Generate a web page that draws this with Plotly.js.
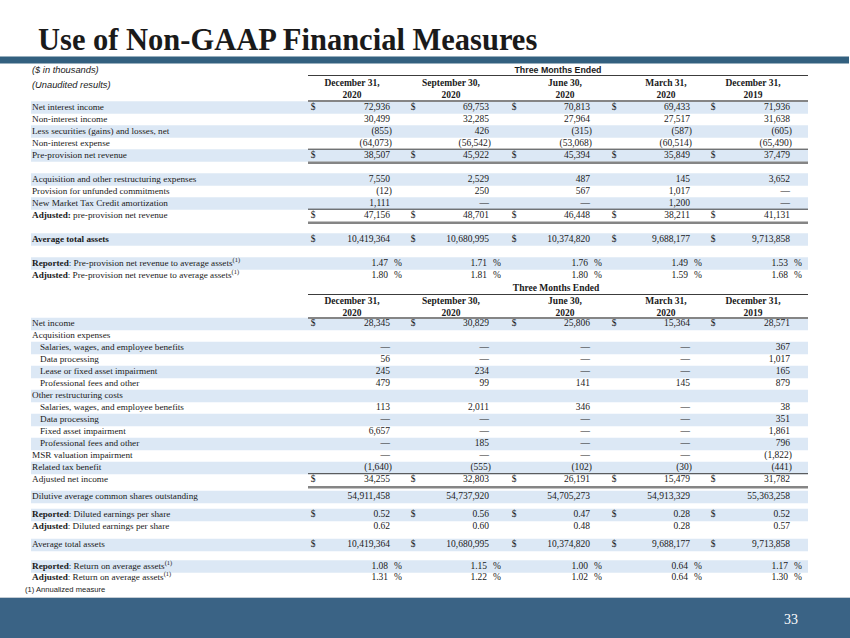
<!DOCTYPE html>
<html><head><meta charset="utf-8">
<script src="https://cdn.plot.ly/plotly-3.0.1.min.js"></script>
<style>html,body{margin:0;padding:0;background:#fff;}#chart{width:850px;height:638px;}</style>
</head><body><div id="chart"></div>
<script>
// ================= DATA =================
const periodLabels = ["December 31,", "September 30,", "June 30,", "March 31,", "December 31,"];
const periodYears = ["2020", "2020", "2020", "2020", "2019"];

const t1Labels = [
  "Net interest income",
  "Non-interest income",
  "Less securities (gains) and losses, net",
  "Non-interest expense",
  "Pre-provision net revenue",
  "Acquisition and other restructuring expenses",
  "Provision for unfunded commitments",
  "New Market Tax Credit amortization",
  "<b>Adjusted:</b> pre-provision net revenue",
  "<b>Average total assets</b>",
  "<b>Reported</b>: Pre-provision net revenue to average assets<sup>(1)</sup>",
  "<b>Adjusted</b>: Pre-provision net revenue to average assets<sup>(1)</sup>"
];
const t1Dec2020 = [72936, 30499, -855, -64073, 38507, 7550, -12, 1111, 47156, 10419364, 1.47, 1.80];
const t1Sep2020 = [69753, 32285, 426, -56542, 45922, 2529, 250, null, 48701, 10680995, 1.71, 1.81];
const t1Jun2020 = [70813, 27964, -315, -53068, 45394, 487, 567, null, 46448, 10374820, 1.76, 1.80];
const t1Mar2020 = [69433, 27517, -587, -60514, 35849, 145, 1017, 1200, 38211, 9688177, 1.49, 1.59];
const t1Dec2019 = [71936, 31638, -605, -65490, 37479, 3652, null, null, 41131, 9713858, 1.53, 1.68];
const t1Units = ["$", "", "", "", "$", "", "", "", "$", "$", "%", "%"];
const t1Decimals = [0, 0, 0, 0, 0, 0, 0, 0, 0, 0, 2, 2];

const t2Labels = [
  "Net income",
  "Acquisition expenses",
  "Salaries, wages, and employee benefits",
  "Data processing",
  "Lease or fixed asset impairment",
  "Professional fees and other",
  "Other restructuring costs",
  "Salaries, wages, and employee benefits",
  "Data processing",
  "Fixed asset impairment",
  "Professional fees and other",
  "MSR valuation impairment",
  "Related tax benefit",
  "Adjusted net income",
  "Dilutive average common shares outstanding",
  "<b>Reported</b>: Diluted earnings per share",
  "<b>Adjusted</b>: Diluted earnings per share",
  "Average total assets",
  "<b>Reported</b>: Return on average assets<sup>(1)</sup>",
  "<b>Adjusted</b>: Return on average assets<sup>(1)</sup>"
];
// "" = blank cell, null = dash
const t2Dec2020 = [28345, "", null, 56, 245, 479, "", 113, null, 6657, null, null, -1640, 34255, 54911458, 0.52, 0.62, 10419364, 1.08, 1.31];
const t2Sep2020 = [30829, "", null, null, 234, 99, "", 2011, null, null, 185, null, -555, 32803, 54737920, 0.56, 0.60, 10680995, 1.15, 1.22];
const t2Jun2020 = [25806, "", null, null, null, 141, "", 346, null, null, null, null, -102, 26191, 54705273, 0.47, 0.48, 10374820, 1.00, 1.02];
const t2Mar2020 = [15364, "", null, null, null, 145, "", null, null, null, null, null, -30, 15479, 54913329, 0.28, 0.28, 9688177, 0.64, 0.64];
const t2Dec2019 = [28571, "", 367, 1017, 165, 879, "", 38, 351, 1861, 796, -1822, -441, 31782, 55363258, 0.52, 0.57, 9713858, 1.17, 1.30];
const t2Units = ["$", "", "", "", "", "", "", "", "", "", "", "", "", "$", "", "$", "", "$", "%", "%"];
const t2Decimals = [0,0,0,0,0,0,0,0,0,0,0,0,0,0,0,2,2,0,2,2];

const titleText = "Use of Non-GAAP Financial Measures";
const headerGroupText = "Three Months Ended";
const unitNote = "($ in thousands)";
const auditNote = "(Unaudited results)";
const footNote = "(1) Annualized measure";
const pageNumber = "33";

// ================= LAYOUT / STYLE =================
const W = 850, H = 638;
const SERIF = "Liberation Serif, Times New Roman, serif";
const SANS = "Liberation Sans, Arial, sans-serif";
const TXT = "#1a1a1a";
const SHADE = "#dce8f5";
const BAND = "#3a6385";
const FS = 9.5;
const FS_LABEL = 9.2;

const xLabel = 32, xIndent = 40;
const shadeX0 = 31, shadeX1 = 808;
const ruleX0 = 308, ruleX1 = 808;
const dollarX = [313, 413, 514, 614, 713];
const valueRightX = [390, 489, 590, 690, 790];
const headerX = [352, 451, 565, 666, 753];

function rowsFrom(start, steps) {
  const out = [start];
  steps.forEach(s => out.push(out[out.length - 1] + s));
  return out;
}
const t1RowY = rowsFrom(107.5, [12, 12, 12, 12, 24, 12, 12, 12, 24, 24, 12]);
const t2RowY = rowsFrom(324, [12,12,12,12,12,12,12,12,12,12,12,12,12, 17, 18, 12, 18, 21.5, 11.5]);
const t1Shade = [1,0,1,0,1, 1,0,1,0, 1, 1,0];
const t2Shade = [1,0,1,0,1,0,1,0,1,0,1,0,1,0, 1, 1,0, 1, 1,0];
const t1Subtotal = [4, 8];
const t2Subtotal = [13];
const t2Indented = [2,3,4,5,7,8,9,10];

function fmt(v, dec) {
  if (v === null) return "\u2014";
  const s = Math.abs(v).toLocaleString("en-US", {minimumFractionDigits: dec, maximumFractionDigits: dec});
  return v < 0 ? "(" + s + ")" : s;
}

const traces = [];
const shapes = [];

function textTrace(xs, ys, texts, pos, font) {
  if (!texts.length) return;
  traces.push({
    type: "scatter", mode: "text", x: xs, y: ys, text: texts,
    textposition: pos, textfont: font, hoverinfo: "skip", showlegend: false, cliponaxis: false
  });
}
function hline(y, x0, x1, color, width) {
  shapes.push({type: "line", xref: "x", yref: "y", x0: x0, x1: x1, y0: y, y1: y,
    line: {color: color, width: width}, layer: "above"});
}
function shadeRow(y) {
  shapes.push({type: "rect", xref: "x", yref: "y", x0: shadeX0, x1: shadeX1, y0: y - 6.2, y1: y + 6.2,
    fillcolor: SHADE, line: {width: 0}, layer: "below"});
}

function buildTable(labels, cols, units, decimals, rowY, shade, subtotals, indented) {
  rowY.forEach((y, i) => { if (shade[i]) shadeRow(y); });
  subtotals.forEach(i => {
    hline(rowY[i] - 6.3, ruleX0, ruleX1, "#3c3c3c", 1);
    hline(rowY[i] + 7.2, ruleX0, ruleX1, "#858585", 2.6);
  });
  textTrace(labels.map((_, i) => indented.includes(i) ? xIndent : xLabel), rowY, labels,
    "middle right", {family: SERIF, size: FS_LABEL, color: TXT});
  cols.forEach((col, j) => {
    const xs = [], ys = [], ts = [];
    col.forEach((v, i) => {
      if (v === "") return;
      let x = valueRightX[j];
      if (units[i] === "%") x -= 2;
      if (typeof v === "number" && v < 0) x += 2;
      xs.push(x); ys.push(rowY[i]); ts.push(fmt(v, decimals[i]));
    });
    textTrace(xs, ys, ts, "middle left", {family: SERIF, size: FS, color: TXT});
    const dx = [], dy = [], px = [], py = [];
    units.forEach((u, i) => {
      if (u === "$") { dx.push(dollarX[j]); dy.push(rowY[i]); }
      if (u === "%") { px.push(valueRightX[j] + 4); py.push(rowY[i]); }
    });
    textTrace(dx, dy, dx.map(() => "$"), "middle center", {family: SERIF, size: FS, color: TXT});
    textTrace(px, py, px.map(() => "%"), "middle right", {family: SERIF, size: FS, color: TXT});
  });
}

function buildHeader(groupY, groupX, groupFont, ruleTop, line1Y, line2Y, ruleBottom) {
  textTrace([groupX], [groupY], ["<b>" + headerGroupText + "</b>"], "middle center", groupFont);
  hline(ruleTop, ruleX0, ruleX1, "#3c3c3c", 1);
  textTrace(headerX, headerX.map(() => line1Y), periodLabels.map(s => "<b>" + s + "</b>"), "middle center",
    {family: SERIF, size: FS, color: TXT});
  textTrace(headerX, headerX.map(() => line2Y), periodYears.map(s => "<b>" + s + "</b>"), "middle center",
    {family: SERIF, size: FS, color: TXT});
  hline(ruleBottom, ruleX0, ruleX1, "#858585", 2);
}

// top and bottom bands
shapes.push({type: "rect", xref: "x", yref: "y", x0: 0, x1: 849, y0: 56.5, y1: 63.5,
  fillcolor: "#33607f", line: {width: 0}, layer: "below"});
shapes.push({type: "rect", xref: "x", yref: "y", x0: 0, x1: W, y0: 598, y1: H,
  fillcolor: BAND, line: {width: 0}, layer: "below"});
hline(597.5, 0, W, "#c3ccd4", 1);

// table 1
buildHeader(70.5, 558, {family: SANS, size: 8.8, color: TXT}, 75.5, 84, 96, 101);
textTrace([xLabel, xLabel], [71, 85.5], ["<i>" + unitNote + "</i>", "<i>" + auditNote + "</i>"], "middle right",
  {family: SANS, size: 9.3, color: TXT});
buildTable(t1Labels, [t1Dec2020, t1Sep2020, t1Jun2020, t1Mar2020, t1Dec2019], t1Units, t1Decimals,
  t1RowY, t1Shade, t1Subtotal, []);

// table 2
buildHeader(289, 556, {family: SERIF, size: FS, color: TXT}, 294.5, 301.5, 313.5, 318);
buildTable(t2Labels, [t2Dec2020, t2Sep2020, t2Jun2020, t2Mar2020, t2Dec2019], t2Units, t2Decimals,
  t2RowY, t2Shade, t2Subtotal, t2Indented);

// footnote and page number
textTrace([25], [590], [footNote], "middle right", {family: SANS, size: 7.6, color: TXT});
textTrace([791], [620.5], [pageNumber], "middle center", {family: SERIF, size: 14, color: "#ffffff"});

const layout = {
  width: W, height: H,
  margin: {l: 0, r: 0, t: 0, b: 0, pad: 0},
  paper_bgcolor: "#ffffff", plot_bgcolor: "#ffffff",
  showlegend: false,
  title: {
    text: "<b>" + titleText + "</b>",
    font: {family: SERIF, size: 30.5, color: TXT},
    xref: "paper", yref: "paper", x: 38 / W, xanchor: "left", y: 1 - 39.5 / H, yanchor: "middle"
  },
  xaxis: {range: [0, W], visible: false, fixedrange: true},
  yaxis: {range: [H, 0], visible: false, fixedrange: true},
  shapes: shapes
};

Plotly.newPlot("chart", traces, layout, {staticPlot: true, displayModeBar: false});
</script>
</body></html>
